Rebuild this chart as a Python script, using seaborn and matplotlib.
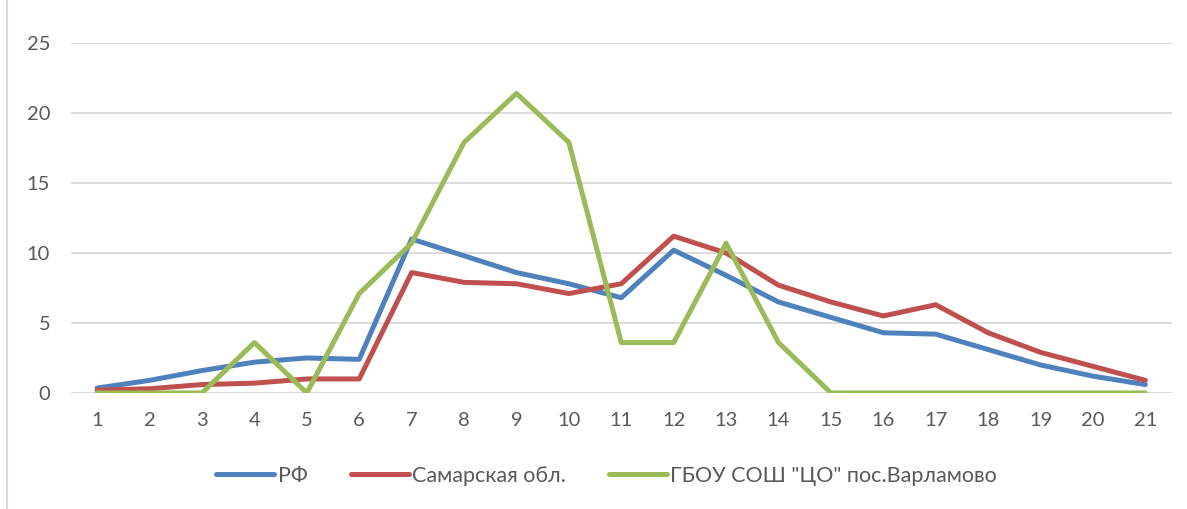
import matplotlib
matplotlib.use("Agg")
import matplotlib.pyplot as plt
import seaborn as sns
import pandas as pd
from matplotlib.lines import Line2D

categories = list(range(1, 22))
rf = [0.35, 0.9, 1.6, 2.2, 2.5, 2.4, 11.0, 9.8, 8.6, 7.8, 6.8, 10.2, 8.4, 6.5, 5.4, 4.3, 4.2, 3.1, 2.0, 1.2, 0.6]
samara = [0.2, 0.3, 0.6, 0.7, 1.0, 1.0, 8.6, 7.9, 7.8, 7.1, 7.8, 11.2, 10.0, 7.7, 6.5, 5.5, 6.3, 4.3, 2.9, 1.9, 0.9]
school = [0, 0, 0, 3.6, 0, 7.1, 10.7, 17.9, 21.4, 17.9, 3.6, 3.6, 10.7, 3.6, 0, 0, 0, 0, 0, 0, 0]
series_names = ["РФ", "Самарская обл.", 'ГБОУ СОШ "ЦО" пос.Варламово']
colors = ["#4F81BD", "#C0504D", "#9BBB59"]

df = pd.concat([
    pd.DataFrame({"x": categories, "y": vals, "series": name})
    for name, vals in zip(series_names, [rf, samara, school])
])

sns.set_style("white")
plt.rcParams["font.family"] = ["Lato", "DejaVu Sans"]

fig = plt.figure(figsize=(11.87, 5.09), dpi=100)
ax = fig.add_axes([0.0598, 0.228, 0.9272, 0.6875])

sns.lineplot(data=df, x="x", y="y", hue="series", palette=colors,
             linewidth=3.6, ax=ax, legend=False, zorder=3)

ax.set_xlim(0.5, 21.5)
ax.set_ylim(0, 25)
ax.set_xticks(categories)
ax.set_yticks([0, 5, 10, 15, 20, 25])
ax.yaxis.grid(True, color="#D9D9D9", linewidth=1.3)
ax.set_axisbelow(True)
for s in ax.spines.values():
    s.set_visible(False)
ax.tick_params(axis="both", length=0, labelsize=14.5, labelcolor="#595959")
ax.tick_params(axis="y", pad=15)
ax.tick_params(axis="x", pad=14)
ax.set_xlabel("")
ax.set_ylabel("")

handles = [Line2D([0], [0], color=c, linewidth=3.6, solid_capstyle="round") for c in colors]
fig.legend(handles, series_names, loc="center", bbox_to_anchor=(0.511, 0.065),
           ncol=3, frameon=False, fontsize=15.5, handlelength=2.7,
           handletextpad=0.15, columnspacing=2.0, labelcolor="#595959")

fig.add_artist(Line2D([0.006, 0.006], [0.0, 1.0], color="#D9D9D9", linewidth=1.5,
                      transform=fig.transFigure))

fig.savefig("out.png", dpi=100)
